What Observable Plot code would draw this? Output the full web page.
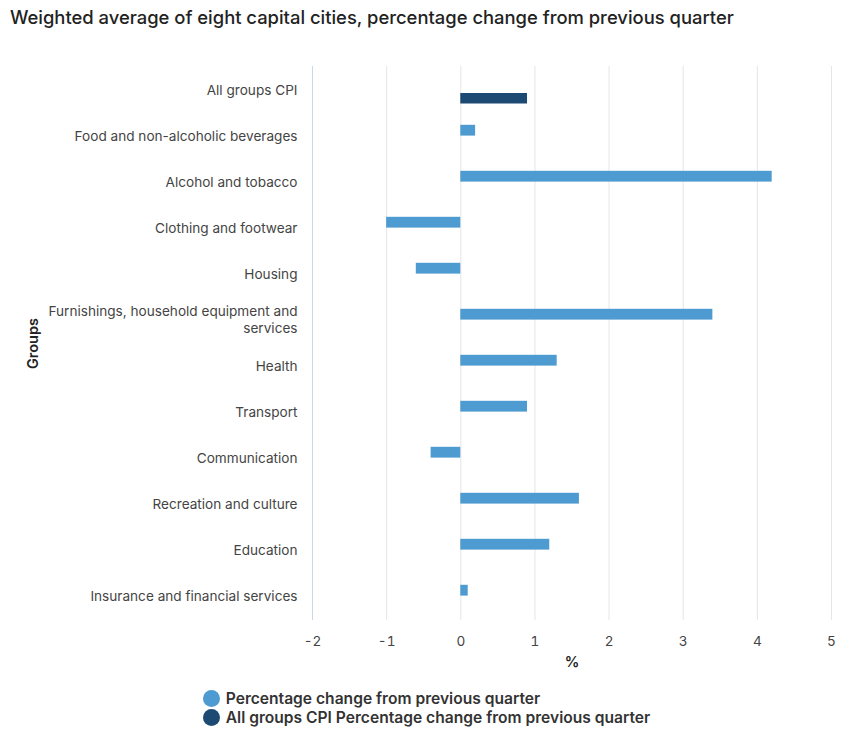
<!DOCTYPE html>
<html>
<head>
<meta charset="utf-8">
<script src="https://cdn.jsdelivr.net/npm/d3@7"></script>
<script src="https://cdn.jsdelivr.net/npm/@observablehq/plot@0.6"></script>
<style>
  body { margin: 0; background: #fff; font-family: Inter, "Noto Sans", sans-serif; color: #333; }
  #title { height: 40px; box-sizing: border-box; padding: 6px 0 0 10px; font-size: 18.4px; font-weight: 500; color: #222; }
  #legend { width: 851px; display: flex; flex-direction: column; align-items: center; margin-top: 9px; }
  .inner { display: flex; flex-direction: column; align-items: flex-start; margin-left: 2px; }
  .item { display: flex; align-items: center; font-size: 15.6px; font-weight: 600; color: #333; height: 19px; }
  .dot { width: 17px; height: 17px; border-radius: 50%; margin-right: 6px; }
</style>
</head>
<body>
<div id="title">Weighted average of eight capital cities, percentage change from previous quarter</div>
<div id="chart"></div>
<div id="legend"><div class="inner"></div></div>
<script>
const groups = [
  "All groups CPI",
  "Food and non-alcoholic beverages",
  "Alcohol and tobacco",
  "Clothing and footwear",
  "Housing",
  "Furnishings, household equipment and services",
  "Health",
  "Transport",
  "Communication",
  "Recreation and culture",
  "Education",
  "Insurance and financial services"
];
const values = [0.9, 0.2, 4.2, -1.0, -0.6, 3.4, 1.3, 0.9, -0.4, 1.6, 1.2, 0.1];
const seriesNames = [
  "Percentage change from previous quarter",
  "All groups CPI Percentage change from previous quarter"
];
const seriesColors = ["#4d9bd0", "#1d4a72"];
const xTicks = [-2, -1, 0, 1, 2, 3, 4, 5];

const data = groups.map((g, i) => ({
  group: g,
  value: values[i],
  series: g === "All groups CPI" ? seriesNames[1] : seriesNames[0]
}));

const chart = Plot.plot({
  width: 851,
  height: 640,
  marginLeft: 312,
  marginRight: 20,
  marginTop: 26,
  marginBottom: 60,
  style: { fontFamily: "Inter, 'Noto Sans', sans-serif", fontSize: "13.6px", color: "#444" },
  x: { domain: [-2, 5], ticks: xTicks },
  y: { domain: groups, padding: 0 },
  color: { domain: seriesNames, range: seriesColors },
  marks: [
    Plot.ruleX(xTicks.filter(d => d > -2), { stroke: "#e6e6e6", strokeWidth: 1 }),
    Plot.ruleX([-2], { stroke: "#ccd6eb", strokeWidth: 1 }),
    Plot.barX(data.filter(d => d.series === seriesNames[0]), {
      x: "value", y: "group", fill: "series", insetTop: 11.8, insetBottom: 23.4
    }),
    Plot.barX(data.filter(d => d.series === seriesNames[1]), {
      x: "value", y: "group", fill: "series", insetTop: 26, insetBottom: 9.5
    }),
    Plot.axisX({
      ticks: xTicks, tickFormat: d => String(d), tickSize: 0, tickPadding: 16,
      fontSize: 13.6, fill: "#444",
      label: "%", labelAnchor: "center", labelArrow: "none", labelOffset: 46
    }),
    Plot.axisY({
      tickSize: 0, tickPadding: 15, fontSize: 13.6, fill: "#444", dy: -1,
      lineWidth: 20, lineHeight: 1.25,
      label: "Groups", labelAnchor: "center", labelArrow: "none", labelOffset: 285
    })
  ]
});

d3.select(chart).selectAll("[aria-label='x-axis label'] text, [aria-label='y-axis label'] text")
  .style("font-weight", "600").style("font-size", "14.5px").attr("fill", "#222");

document.getElementById("chart").appendChild(chart);

const inner = d3.select("#legend .inner");
seriesNames.forEach((s, i) => {
  const item = inner.append("div").attr("class", "item");
  item.append("div").attr("class", "dot").style("background", seriesColors[i]);
  item.append("span").text(s);
});
</script>
</body>
</html>
